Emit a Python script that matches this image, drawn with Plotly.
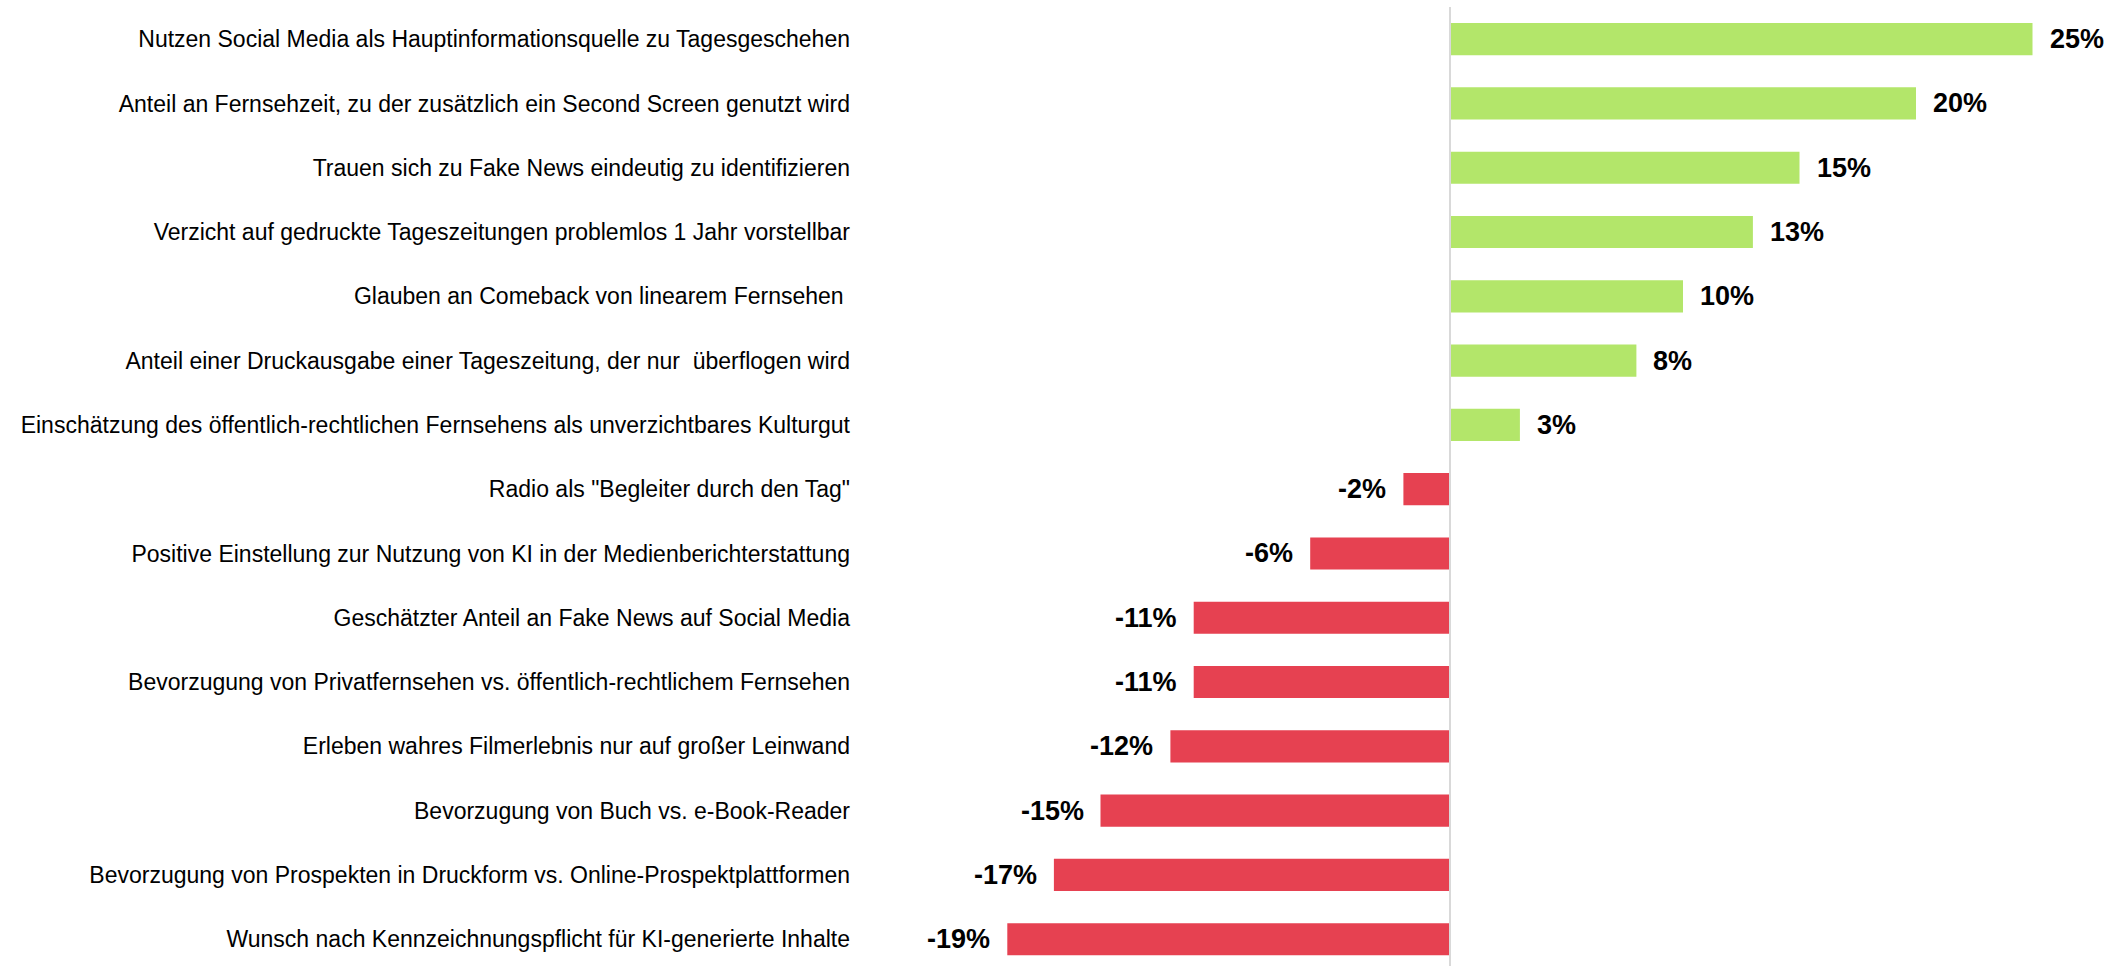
import plotly.graph_objects as go

categories = [
    "Nutzen Social Media als Hauptinformationsquelle zu Tagesgeschehen",
    "Anteil an Fernsehzeit, zu der zusätzlich ein Second Screen genutzt wird",
    "Trauen sich zu Fake News eindeutig zu identifizieren",
    "Verzicht auf gedruckte Tageszeitungen problemlos 1 Jahr vorstellbar",
    "Glauben an Comeback von linearem Fernsehen ",
    "Anteil einer Druckausgabe einer Tageszeitung, der nur  überflogen wird",
    "Einschätzung des öffentlich-rechtlichen Fernsehens als unverzichtbares Kulturgut",
    "Radio als \"Begleiter durch den Tag\"",
    "Positive Einstellung zur Nutzung von KI in der Medienberichterstattung",
    "Geschätzter Anteil an Fake News auf Social Media",
    "Bevorzugung von Privatfernsehen vs. öffentlich-rechtlichem Fernsehen",
    "Erleben wahres Filmerlebnis nur auf großer Leinwand",
    "Bevorzugung von Buch vs. e-Book-Reader",
    "Bevorzugung von Prospekten in Druckform vs. Online-Prospektplattformen",
    "Wunsch nach Kennzeichnungspflicht für KI-generierte Inhalte",
]
values = [25, 20, 15, 13, 10, 8, 3, -2, -6, -11, -11, -12, -15, -17, -19]

GREEN = "#B3E66A"
RED = "#E64151"
colors = [GREEN if v >= 0 else RED for v in values]

W, H = 2121, 966
L = 856
T = 7
zero_px = 1450
px_per = 23.3
xmin = -(zero_px - L) / px_per
xmax = (W - zero_px) / px_per
row_px = 64.29
y_bottom = -0.5 + (H - T) / row_px

fig = go.Figure()
fig.add_trace(go.Bar(
    x=values, y=categories, orientation="h",
    marker=dict(color=colors, line=dict(width=0)),
    hoverinfo="skip",
))

for c, v in zip(categories, values):
    fig.add_annotation(
        x=v, y=c, xref="x", yref="y",
        text=f"<b>{v}%</b>", showarrow=False,
        xanchor="left" if v >= 0 else "right",
        xshift=15 if v >= 0 else -15,
        font=dict(family="Liberation Sans, Arial, sans-serif", size=27, color="#000000"),
    )

fig.add_shape(type="line", xref="x", yref="paper", x0=0, x1=0, y0=0, y1=1,
              line=dict(color="#D9D9D9", width=2), layer="above")

fig.update_layout(
    width=W, height=H,
    margin=dict(l=L, r=0, t=T, b=0),
    paper_bgcolor="white", plot_bgcolor="white",
    bargap=0.5,
    showlegend=False,
    font=dict(family="Liberation Sans, Arial, sans-serif", size=23, color="#000000"),
    xaxis=dict(range=[xmin, xmax], visible=False, showgrid=False, zeroline=False),
    yaxis=dict(range=[y_bottom, -0.5], showgrid=False, zeroline=False, ticks="",
               showline=False, tickfont=dict(size=23, color="#000000"),
               ticklabelstandoff=5, automargin=False),
)

fig.write_html("out.html")
